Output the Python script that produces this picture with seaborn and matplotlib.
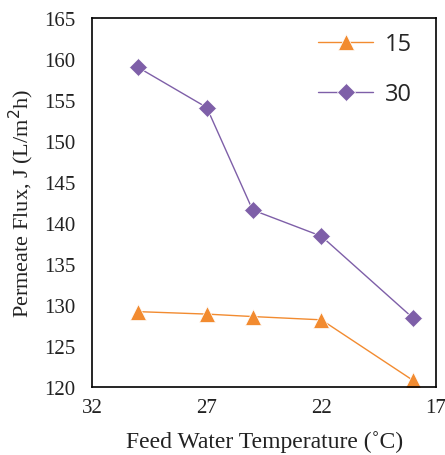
import pandas as pd
import matplotlib.pyplot as plt
import seaborn as sns

sns.set_style("white")

# dados
temperature = [30, 27, 25, 22, 18]
flux_15 = [129.2, 128.9, 128.6, 128.2, 120.8]
flux_30 = [159.0, 154.1, 141.6, 138.4, 128.4]

df = pd.DataFrame({
    "temp": temperature * 2,
    "flux": flux_15 + flux_30,
    "serie": ["15"] * 5 + ["30"] * 5,
})

plt.rcParams['font.family'] = ['Liberation Serif', 'DejaVu Serif']
msize = {"^": 11, "D": 9.5}

fig, ax = plt.subplots(figsize=(4.45, 4.56), dpi=100)
sns.lineplot(data=df, x="temp", y="flux", hue="serie", style="serie",
             palette={"15": "#F28B30", "30": "#7E5FA8"},
             markers={"15": "^", "30": "D"}, dashes=False,
             linewidth=1, markeredgewidth=0.5, ax=ax)
for ln in ax.lines:
    m = ln.get_marker()
    if m in msize:
        ln.set_markersize(msize[m])

ax.set_xlim(32, 17)
ax.set_ylim(120, 165)
ax.set_xticks([32, 27, 22, 17])
ax.set_yticks(range(120, 166, 5))
ax.tick_params(labelsize=15, length=0, labelcolor="#222222")
ax.tick_params(axis="y", pad=12)
ax.tick_params(axis="x", pad=8)
for s in ax.spines.values():
    s.set_color("black")
    s.set_linewidth(1.2)

ax.set_xlabel("Feed Water Temperature (˚C)", fontsize=17, labelpad=9, color="#222222")
ax.set_ylabel("Permeate Flux, J (L/m$^2$h)", fontsize=16, labelpad=6, color="#222222")

leg = ax.legend(loc="upper right", bbox_to_anchor=(0.97, 1.0), frameon=False,
                handlelength=2.3, labelspacing=1.1,
                prop={"family": "Open Sans", "size": 17},
                borderaxespad=0.2, handletextpad=0.5)
for h in leg.legend_handles:
    m = h.get_marker()
    if m in msize:
        h.set_markersize(msize[m])

plt.subplots_adjust(left=0.207, right=0.98, top=0.958, bottom=0.149)
plt.savefig("out.png", dpi=100)
